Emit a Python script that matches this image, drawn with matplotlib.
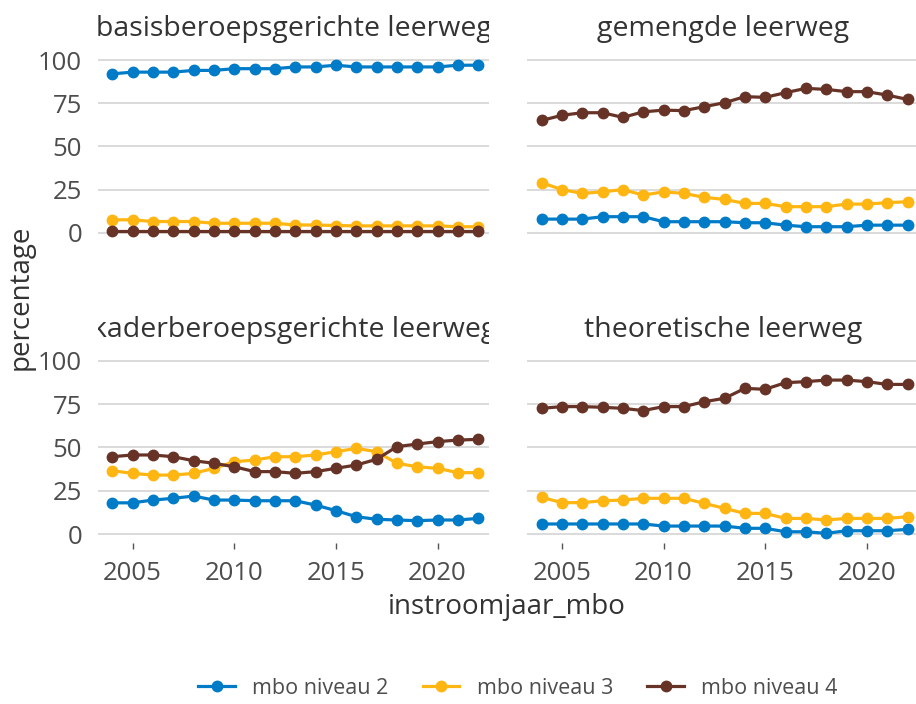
import matplotlib
matplotlib.use("Agg")
import matplotlib.pyplot as plt
from matplotlib.transforms import Bbox, TransformedBbox
from matplotlib.lines import Line2D

plt.rcParams['font.family'] = ['Open Sans', 'DejaVu Sans']

years = list(range(2004, 2023))

# basisberoepsgerichte leerweg
basis_n2 = [92, 93, 93, 93, 94, 94, 95, 95, 95, 96, 96, 97, 96, 96, 96, 96, 96, 97, 97]
basis_n3 = [7.5, 7.5, 6.5, 6.5, 6.5, 5.5, 5.5, 5.5, 5.5, 4.5, 4.5, 4.2, 4, 4, 4, 4, 4, 3.5, 3.5]
basis_n4 = [1, 1, 1, 1, 1, 1, 1, 1, 1, 1, 1, 1, 1, 1, 1, 1, 1, 1, 1]

# gemengde leerweg
gem_n2 = [7.9, 7.9, 7.9, 9.3, 9.3, 9.3, 6.4, 6.4, 6.4, 6.4, 5.8, 5.8, 4.4, 3.5, 3.5, 3.5, 4.4, 4.4, 4.4]
gem_n3 = [29, 25, 22.8, 23.7, 25, 21.8, 23.7, 22.8, 20.5, 19.3, 17, 17, 15.1, 15.1, 15.1, 16.6, 16.6, 17.4, 18]
gem_n4 = [65, 68, 69.5, 69.5, 66.8, 70, 71, 70.7, 73, 75.3, 78.8, 78.4, 81.1, 83.6, 83, 81.7, 81.7, 79.7, 77.2]

# kaderberoepsgerichte leerweg
kader_n2 = [18, 18, 19.6, 20.6, 21.9, 19.6, 19.6, 19.2, 19.2, 19.2, 16.7, 13.5, 10, 8.5, 8.1, 7.7, 8.1, 8.1, 9]
kader_n3 = [36.5, 35, 34, 34, 35, 37.9, 41.7, 42.7, 44.6, 44.6, 45.6, 47.5, 49.4, 47.5, 40.8, 38.8, 37.9, 35.4, 35.4]
kader_n4 = [44.6, 45.6, 45.6, 44.6, 42.3, 40.8, 38.8, 36, 36, 35, 36, 37.9, 39.8, 43.1, 50.4, 51.9, 53.3, 54.2, 54.6]

# theoretische leerweg
theo_n2 = [5.8, 5.8, 5.8, 5.8, 5.8, 5.8, 4.6, 4.6, 4.6, 4.6, 3.3, 3.3, 1.3, 1.3, 0.4, 1.9, 1.9, 1.9, 2.7]
theo_n3 = [21.2, 18.1, 18.1, 19.2, 19.6, 20.6, 20.6, 20.6, 17.7, 14.8, 11.9, 11.9, 9, 9, 8.1, 9, 9, 9, 10]
theo_n4 = [72.5, 73.5, 73.5, 73.1, 72.5, 71.2, 73.5, 73.5, 76.3, 78.3, 84, 83.5, 87.3, 87.9, 88.8, 88.8, 87.9, 86.3, 86.3]

panels = ['basisberoepsgerichte leerweg', 'gemengde leerweg',
          'kaderberoepsgerichte leerweg', 'theoretische leerweg']
series_names = ['mbo niveau 2', 'mbo niveau 3', 'mbo niveau 4']
colors = ['#007bc7', '#ffb612', '#673327']

data = {
    panels[0]: [basis_n2, basis_n3, basis_n4],
    panels[1]: [gem_n2, gem_n3, gem_n4],
    panels[2]: [kader_n2, kader_n3, kader_n4],
    panels[3]: [theo_n2, theo_n3, theo_n4],
}

text_col = '#4d4d4d'
fig = plt.figure(figsize=(9.16, 7.04), dpi=100)

W, H = 916, 704
boxes = [
    (98, 51.4, 391.4, 190),
    (527.3, 51.4, 391.4, 190),
    (98, 352, 391.4, 190.7),
    (527.3, 352, 391.4, 190.7),
]

for i, name in enumerate(panels):
    x0, y0, w, h = boxes[i]
    ax = fig.add_axes([x0 / W, 1 - (y0 + h) / H, w / W, h / H])
    for vals, col in zip(data[name], colors):
        ax.plot(years, vals, color=col, lw=2.3, marker='o', ms=7.5, zorder=3)
    ax.set_xlim(2003.3, 2022.55)
    ax.set_ylim(-5, 105)
    ax.set_yticks([0, 25, 50, 75, 100])
    ax.set_xticks([2005, 2010, 2015, 2020])
    ax.grid(axis='y', color='#d4d4d4', lw=1.2)
    ax.set_axisbelow(True)
    for s in ax.spines.values():
        s.set_visible(False)
    ax.tick_params(axis='y', length=0, pad=11.5, labelsize=18.5, labelcolor=text_col)
    ax.tick_params(axis='x', length=4, width=1, color='#555555', pad=9,
                   labelsize=18.5, labelcolor=text_col)
    if i % 2 == 1:
        ax.tick_params(axis='y', labelleft=False)
    if i < 2:
        ax.tick_params(axis='x', bottom=False, labelbottom=False)
    # strip title, clipped to the panel width like a facet strip
    t = ax.text(0.5, 1.0 + 22 / h, name, transform=ax.transAxes, ha='center',
                va='center', fontsize=20.5, color='#333333')
    t.set_clip_box(TransformedBbox(Bbox([[0, 1], [1, 1.5]]), ax.transAxes))
    t.set_clip_on(True)

fig.text(507 / W, 1 - 607 / H, 'instroomjaar_mbo', ha='center', va='center',
         fontsize=20, color='#333333')
fig.text(21 / W, 1 - 297 / H, 'percentage', ha='center', va='center',
         rotation=90, fontsize=20, color='#333333')

handles = [Line2D([0], [0], color=c, lw=2.3, marker='o', ms=7.5) for c in colors]
fig.legend(handles, series_names, loc='center', bbox_to_anchor=(518 / W, 1 - 688 / H),
           ncol=3, frameon=False, fontsize=15.5, handlelength=1.7, handletextpad=0.8,
           columnspacing=1.6, labelcolor=text_col)

fig.savefig('out.png', dpi=100)
